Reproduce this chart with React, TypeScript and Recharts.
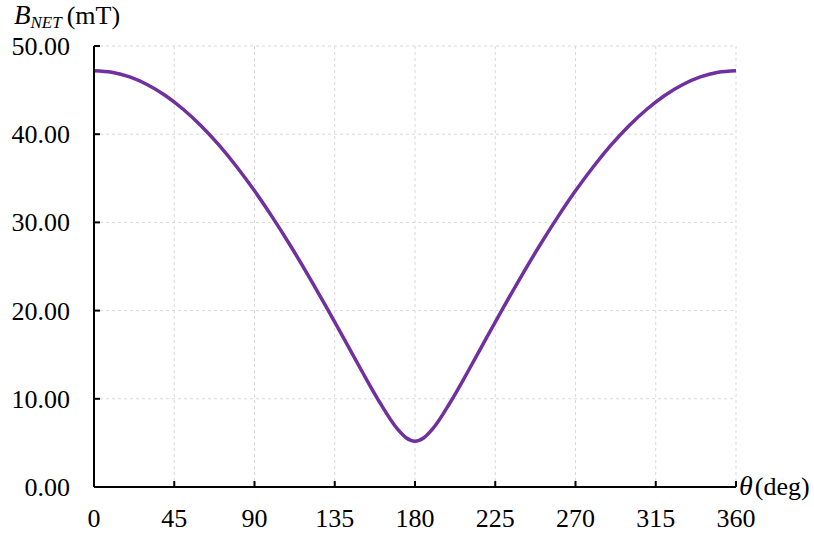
import { LineChart, Line, XAxis, YAxis, CartesianGrid } from 'recharts'

// angle (deg) and net field (mT)
const thetaDeg = [0, 10, 20, 30, 40, 50, 60, 70, 80, 90, 100, 110, 120, 130, 140, 150, 160, 170, 175, 180,
    185, 190, 200, 210, 220, 230, 240, 250, 260, 270, 280, 290, 300, 310, 320, 330, 340, 350, 360]
const bNet = [47.2, 47.02, 46.49, 45.61, 44.39, 42.83, 40.96, 38.78, 36.31, 33.58, 30.6, 27.41, 24.03, 20.5, 16.87, 13.21, 9.67, 6.61, 5.59, 5.2,
    5.59, 6.61, 9.67, 13.21, 16.87, 20.5, 24.03, 27.41, 30.6, 33.58, 36.31, 38.78, 40.96, 42.83, 44.39, 45.61, 46.49, 47.02, 47.2]

const xTicks = [0, 45, 90, 135, 180, 225, 270, 315, 360]
const yTicks = [0, 10, 20, 30, 40, 50]

const FONT = '"Liberation Serif", "Times New Roman", serif'
const LINE_COLOR = '#7030A0'

const data = thetaDeg.map((t, i) => ({ theta: t, b: bNet[i] }))

// custom ticks so the serif font and size really stick
const XTick = (props: any) => {
    const { x, y, payload } = props
    return (
        <text x={x} y={y + 46} textAnchor="middle" fontFamily={FONT} fontSize={26} fill="#000">
            {payload.value}
        </text>
    )
}

const YTick = (props: any) => {
    const { x, y, payload } = props
    return (
        <text x={x - 24} y={y + 9} textAnchor="end" fontFamily={FONT} fontSize={26} fill="#000">
            {Number(payload.value).toFixed(2)}
        </text>
    )
}

const YLabel = () => (
    <text fontFamily={FONT} fill="#000">
        <tspan x={14} y={24} fontSize={27} fontStyle="italic">B</tspan>
        <tspan dy={4} fontSize={17} fontStyle="italic">NET</tspan>
        <tspan dy={-4} dx={5} fontSize={26}>(mT)</tspan>
    </text>
)

const XLabel = () => (
    <text fontFamily={FONT} fill="#000">
        <tspan x={739} y={495} fontSize={28} fontStyle="italic">θ</tspan>
        <tspan dx={2} fontSize={26}>(deg)</tspan>
    </text>
)

export default function App() {
    return (
        <div style={{ position: 'absolute', left: 0, top: 0, width: 814, height: 533, background: '#fff', fontFamily: FONT }}>
            <LineChart width={814} height={533} data={data} margin={{ top: 46, right: 78, bottom: 0, left: 34 }}>
                <CartesianGrid stroke="#d9d9d9" strokeDasharray="3 3" />
                <XAxis
                    dataKey="theta"
                    type="number"
                    domain={[0, 360]}
                    ticks={xTicks}
                    height={46}
                    tickSize={-6}
                    tickMargin={0}
                    axisLine={{ stroke: '#000', strokeWidth: 2 }}
                    tickLine={{ stroke: '#000', strokeWidth: 2 }}
                    tick={XTick}
                    label={{ content: XLabel }}
                />
                <YAxis
                    type="number"
                    domain={[0, 50]}
                    ticks={yTicks}
                    width={60}
                    tickSize={-6}
                    tickMargin={6}
                    axisLine={{ stroke: '#000', strokeWidth: 2 }}
                    tickLine={{ stroke: '#000', strokeWidth: 2 }}
                    tick={YTick}
                    label={{ content: YLabel }}
                />
                <Line
                    dataKey="b"
                    type="monotone"
                    stroke={LINE_COLOR}
                    strokeWidth={3.5}
                    dot={false}
                    isAnimationActive={false}
                />
            </LineChart>
        </div>
    )
}
